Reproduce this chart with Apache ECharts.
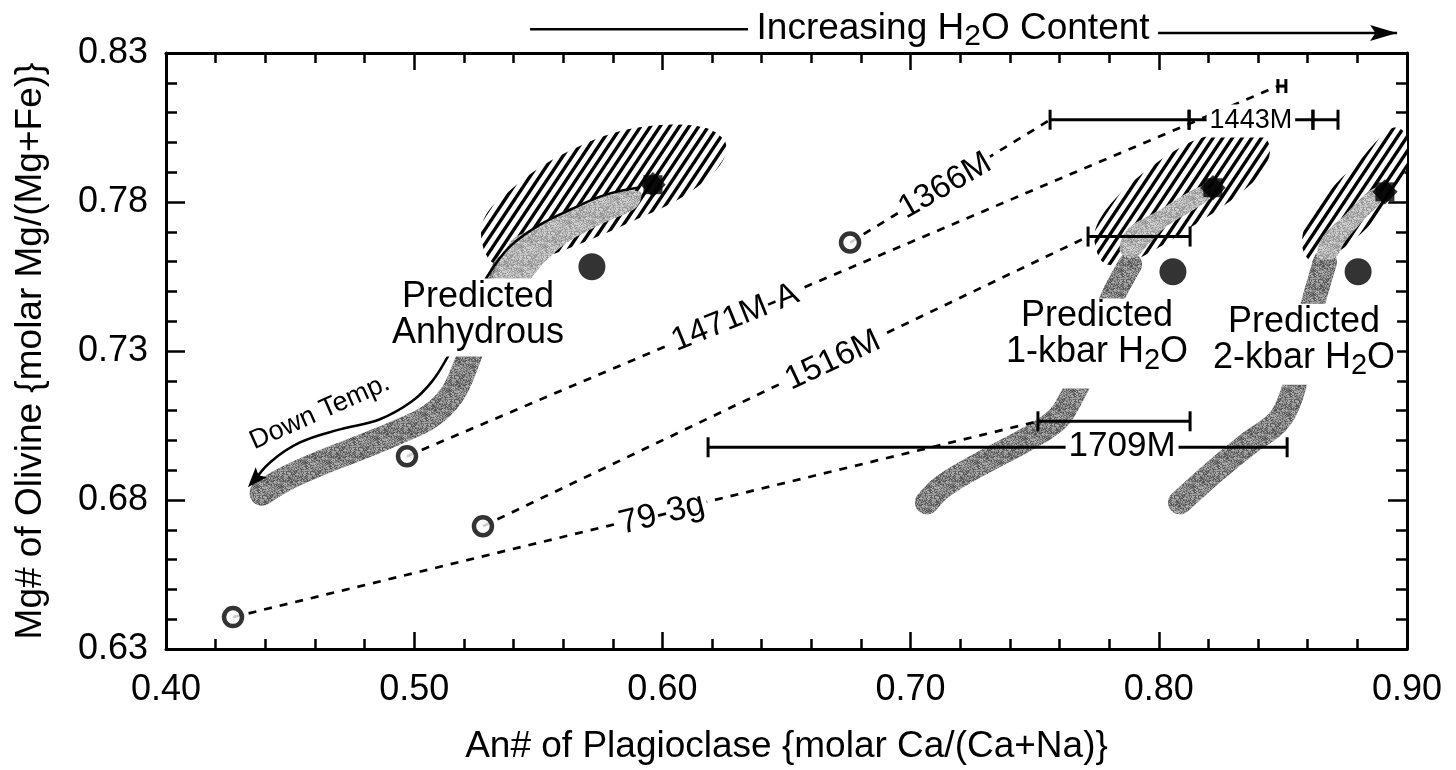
<!DOCTYPE html>
<html>
<head>
<meta charset="utf-8">
<script src="https://cdn.jsdelivr.net/npm/echarts@6.0.0/dist/echarts.min.js"></script>
<style>
html,body{margin:0;padding:0;background:#fff;}
#chart{width:1456px;height:770px;}
</style>
</head>
<body>
<div id="chart"></div>
<script>
// ================= data =================
const xTicks = [0.40, 0.50, 0.60, 0.70, 0.80, 0.90];
const yTicks = [0.63, 0.68, 0.73, 0.78, 0.83];
const xTitle = 'An# of Plagioclase {molar Ca/(Ca+Na)}';
const yTitle = 'Mg# of Olivine {molar Mg/(Mg+Fe)}';

// open circles (sample starting points)
const openCircles = [[0.4270,0.6407],[0.4971,0.6947],[0.5277,0.6712],[0.6756,0.7664]];
// filled circles and filled stars
const filledCircles = [[0.5716,0.7583],[0.8057,0.7566],[0.8803,0.7566]];
const stars = [[0.5962,0.7858],[0.8218,0.7848],[0.8911,0.7834]];

// dotted sample trend lines
const line79_3g  = [[0.4270,0.6407],[0.7513,0.7064]];
const line1516M  = [[0.5277,0.6712],[0.7715,0.7684]];
const line1471MA = [[0.4971,0.6947],[0.8480,0.8189]];
const line1366M  = [[0.6756,0.7664],[0.7562,0.8076]];

// horizontal ranges [xFrom, xTo, y]
const errorBars = [
  [0.7562,0.8122,0.8076],[0.8122,0.8621,0.8076],[0.8621,0.8722,0.8076],
  [0.7715,0.8126,0.7684],
  [0.7513,0.8126,0.7064],
  [0.6184,0.8517,0.6977]
];
const smallBars = [[0.8480,0.8512,0.8189]];

// sample labels
const sampleNames = ['79-3g','1516M','1471M-A','1366M','1443M','1709M'];
const samplePos = [[0.5998,0.6752],[0.6687,0.7268],[0.6293,0.7412],[0.7139,0.7854],[0.8371,0.8072],[0.7852,0.6980]];

// predicted fields: hatched outlines
const anhEllipse = [[0.5269,0.7700],[0.5297,0.7767],[0.5366,0.7824],[0.5479,0.7901],[0.5616,0.7968],[0.5817,0.8035],[0.6019,0.8059],[0.6172,0.8049],[0.6248,0.8009],[0.6256,0.7965],[0.6224,0.7915],[0.6152,0.7858],[0.6039,0.7797],[0.5910,0.7747],[0.5769,0.7694],[0.5608,0.7640],[0.5467,0.7600],[0.5366,0.7580],[0.5297,0.7613]];
const kbar1Ellipse = [[0.7743,0.7657],[0.7751,0.7724],[0.7832,0.7818],[0.7965,0.7915],[0.8106,0.7992],[0.8206,0.8022],[0.8347,0.8029],[0.8428,0.8015],[0.8448,0.7968],[0.8416,0.7901],[0.8335,0.7834],[0.8239,0.7774],[0.8126,0.7714],[0.8005,0.7650],[0.7884,0.7600],[0.7783,0.7593]];
const kbar2Ellipse = [[0.8577,0.7657],[0.8609,0.7757],[0.8710,0.7858],[0.8811,0.7942],[0.8883,0.8009],[0.8944,0.8049],[0.8992,0.8032],[0.9004,0.7975],[0.8992,0.7901],[0.8919,0.7791],[0.8819,0.7697],[0.8710,0.7627],[0.8617,0.7600]];

// lighter parts of the paths inside the fields
const anhBand = [[0.5317,0.7523],[0.5386,0.7664],[0.5467,0.7707],[0.5616,0.7774],[0.5801,0.7831],[0.5910,0.7834],[0.5910,0.7801],[0.5882,0.7774],[0.5749,0.7724],[0.5616,0.7664],[0.5527,0.7600],[0.5438,0.7523]];
const kbar1Band = [[0.7844,0.7633],[0.7872,0.7707],[0.8005,0.7774],[0.8138,0.7841],[0.8194,0.7854],[0.8214,0.7821],[0.8166,0.7787],[0.8025,0.7714],[0.7957,0.7657],[0.7904,0.7613]];
const kbar2Band = [[0.8641,0.7613],[0.8658,0.7680],[0.8750,0.7757],[0.8843,0.7834],[0.8883,0.7848],[0.8899,0.7808],[0.8819,0.7734],[0.8750,0.7667],[0.8710,0.7613]];

// predicted cooling paths (grey ribbons)
const anhRibbon = [[0.4387,0.6823],[0.4479,0.6870],[0.4592,0.6913],[0.4794,0.6980],[0.4931,0.7027],[0.5064,0.7081],[0.5152,0.7154],[0.5209,0.7255],[0.5257,0.7372],[0.5313,0.7489],[0.5366,0.7580]];
const kbar1Ribbon = [[0.7066,0.6792],[0.7131,0.6846],[0.7292,0.6926],[0.7469,0.7004],[0.7590,0.7071],[0.7650,0.7148],[0.7703,0.7238],[0.7755,0.7355],[0.7815,0.7483],[0.7884,0.7590]];
const kbar2Ribbon = [[0.8085,0.6792],[0.8134,0.6829],[0.8234,0.6903],[0.8367,0.6993],[0.8476,0.7060],[0.8529,0.7138],[0.8561,0.7238],[0.8593,0.7372],[0.8629,0.7483],[0.8670,0.7600]];

// "Down Temp." arrow
const downTempPath = [[0.5902,0.7848],[0.5769,0.7824],[0.5628,0.7774],[0.5507,0.7724],[0.5394,0.7657],[0.5326,0.7590],[0.5265,0.7506],[0.5193,0.7372],[0.5136,0.7282],[0.5072,0.7198],[0.4991,0.7131],[0.4862,0.7071],[0.4701,0.7037],[0.4540,0.6993],[0.4419,0.6926],[0.4346,0.6853]];
const downTempHead = [0.4387,0.6896,0.4330,0.6843];
const downTempLabelPos = [[0.4620,0.7095]];

// "Increasing H2O Content" arrow above the plot
const h2oArrowLeft = [[0.5467,0.8380],[0.6345,0.8380]];
const h2oArrowRight = [[0.7997,0.8367],[0.8960,0.8367]];
const h2oHead = [0.8900,0.8367,0.8960,0.8367];
const h2oLabelPos = [[0.7171,0.8380]];

// field labels
const fieldNames = ['Predicted\nAnhydrous','Predicted\n1-kbar H{s|2}O','Predicted\n2-kbar H{s|2}O'];
const fieldPos = [[0.5257,0.7412],[0.7751,0.7325],[0.8585,0.7323]];

// ================= rendering =================
const FONT = '"Liberation Sans", Arial, Helvetica, sans-serif';
const step = a => +(a[1] - a[0]).toFixed(4);

function makeHatch() {
  const p = 29, c = document.createElement('canvas');
  c.width = p; c.height = p;
  const g = c.getContext('2d');
  g.fillStyle = '#fff'; g.fillRect(0, 0, p, p);
  g.strokeStyle = '#000'; g.lineWidth = 3.4;
  for (let k = -3; k <= 8; k++) {
    const cc = k * p;
    g.beginPath();
    g.moveTo(-p, (cc + 3 * p) / 2);
    g.lineTo(2 * p, (cc - 6 * p) / 2);
    g.stroke();
  }
  return c;
}
// stippled grey texture (deterministic hash dither, purely decorative)
function makeStipple(base, amp) {
  const n = 24, c = document.createElement('canvas');
  c.width = n; c.height = n;
  const g = c.getContext('2d');
  for (let i = 0; i < n; i++) for (let j = 0; j < n; j++) {
    let h = (i * 374761393 + j * 668265263) >>> 0;
    h = ((h ^ (h >>> 13)) * 1274126177) >>> 0;
    const t = ((h >>> 8) % 1000) / 1000 - 0.5;
    const v = Math.max(0, Math.min(255, Math.round(base + amp * t)));
    g.fillStyle = 'rgb(' + v + ',' + v + ',' + v + ')';
    g.fillRect(i, j, 1, 1);
  }
  return { image: c, repeat: 'repeat' };
}
const hatch = makeHatch();
const darkGrey = makeStipple(130, 110);
const lightGrey = makeStipple(178, 80);

function xAxisCfg(pos, show) {
  return {
    type: 'value', position: pos, min: xTicks[0], max: xTicks[xTicks.length - 1], interval: step(xTicks),
    axisLine: { show: true, onZero: false, lineStyle: { color: '#000', width: 3 } },
    axisTick: { show: true, inside: true, length: 17, lineStyle: { color: '#000', width: 2.5 } },
    minorTick: { show: true, splitNumber: 5, length: 10, lineStyle: { color: '#000', width: 2.5 } },
    splitLine: { show: false }, minorSplitLine: { show: false },
    axisLabel: { show: show, fontSize: 36, color: '#000', fontFamily: FONT, margin: 23, formatter: v => v.toFixed(2) },
    name: show ? xTitle : '', nameLocation: 'middle', nameGap: 79,
    nameTextStyle: { fontSize: 37, color: '#000', fontFamily: FONT }
  };
}
function yAxisCfg(pos, show) {
  return {
    type: 'value', position: pos, min: yTicks[0], max: yTicks[yTicks.length - 1], interval: step(yTicks),
    axisLine: { show: true, onZero: false, lineStyle: { color: '#000', width: 3 } },
    axisTick: { show: true, inside: true, length: 19, lineStyle: { color: '#000', width: 2.5 } },
    minorTick: { show: true, splitNumber: 5, length: 11, lineStyle: { color: '#000', width: 2.5 } },
    splitLine: { show: false }, minorSplitLine: { show: false },
    axisLabel: { show: show, fontSize: 36, color: '#000', fontFamily: FONT, margin: 18, formatter: v => v.toFixed(2) },
    name: show ? yTitle : '', nameLocation: 'middle', nameGap: 117,
    nameTextStyle: { fontSize: 37, color: '#000', fontFamily: FONT }
  };
}

function dashed(data) {
  return { type: 'line', data: data, symbol: 'none', silent: true, z: 5,
    lineStyle: { color: '#000', width: 2.7, type: [8, 8] } };
}
function ribbon(data, color, width) {
  return { type: 'line', data: data, symbol: 'none', smooth: 0.4, silent: true, z: 3,
    lineStyle: { color: color, width: width, cap: 'round', join: 'round' } };
}
function polySeries(polys, fill, z) {
  return { type: 'custom', coordinateSystem: 'cartesian2d', silent: true, clip: true, z: z,
    data: polys.map((f, i) => [f[0][0], f[0][1], i]), encode: { x: 0, y: 1 },
    renderItem: (params, api) => {
      const f = polys[api.value(2)];
      return { type: 'polygon', shape: { points: f.map(p => api.coord(p)), smooth: 0.35 },
        style: { fill: fill, stroke: null } };
    } };
}
function textSeries(points, names, opt) {
  return {
    type: 'scatter', silent: true, clip: false, z: opt.z || 20,
    symbol: 'circle', symbolSize: 1, itemStyle: { color: 'transparent', opacity: 1 },
    data: points.map((p, i) => {
      const lab = {};
      if (opt.rotate) lab.rotate = opt.rotate[i];
      if (opt.sizes) lab.fontSize = opt.sizes[i];
      if (opt.pads) lab.padding = opt.pads[i];
      return { value: p, name: names[i], label: lab };
    }),
    label: {
      show: true, position: 'inside', formatter: p => p.name, color: '#000', opacity: 1,
      textBorderWidth: 0, textBorderColor: 'transparent', fontFamily: FONT,
      fontSize: opt.size, lineHeight: opt.lineHeight || opt.size,
      backgroundColor: opt.bg || 'transparent', padding: opt.padding || 0,
      rich: { s: { fontSize: opt.sub || 28, lineHeight: 20, padding: [16, 0, 0, 0], fontFamily: FONT, color: '#000', opacity: 1, textBorderWidth: 0 } }
    },
    emphasis: { disabled: true }
  };
}
const headStyle = [[20, 7.5], [27, 8]];
const heads = [downTempHead, h2oHead];

const option = {
  animation: false,
  textStyle: { fontFamily: FONT, color: '#000' },
  grid: { left: 166, right: 49, top: 53, bottom: 120, containLabel: false },
  xAxis: [xAxisCfg('bottom', true), xAxisCfg('top', false)],
  yAxis: [yAxisCfg('left', true), yAxisCfg('right', false)],
  series: [
    // hatched predicted fields
    polySeries([anhEllipse, kbar1Ellipse, kbar2Ellipse], { image: hatch, repeat: 'repeat' }, 2),
    // grey cooling paths
    ribbon(anhRibbon, darkGrey, 25),
    ribbon(kbar1Ribbon, darkGrey, 24),
    ribbon(kbar2Ribbon, darkGrey, 24),
    polySeries([anhBand, kbar1Band, kbar2Band], lightGrey, 4),
    // Down Temp arrow
    { type: 'line', data: downTempPath, symbol: 'none', smooth: 0.4, silent: true, z: 6,
      lineStyle: { color: '#000', width: 2.5 } },
    // Increasing H2O arrow lines
    { type: 'line', data: h2oArrowLeft, symbol: 'none', silent: true, clip: false, z: 6, lineStyle: { color: '#000', width: 2.5 } },
    { type: 'line', data: h2oArrowRight, symbol: 'none', silent: true, clip: false, z: 6, lineStyle: { color: '#000', width: 2.5 } },
    // arrow heads
    { type: 'custom', coordinateSystem: 'cartesian2d', silent: true, clip: false, z: 6,
      data: heads.map((h, i) => [h[0], h[1], h[2], h[3], i]), encode: { x: [0, 2], y: [1, 3] },
      renderItem: (params, api) => {
        const i = api.value(4);
        const a = api.coord([api.value(0), api.value(1)]), b = api.coord([api.value(2), api.value(3)]);
        let dx = b[0] - a[0], dy = b[1] - a[1]; const d = Math.hypot(dx, dy); dx /= d; dy /= d;
        const L = headStyle[i][0], W = headStyle[i][1];
        const bx = b[0] - L * dx, by = b[1] - L * dy;
        return { type: 'polygon', shape: { points: [b, [bx - W * dy, by + W * dx], [b[0] - 0.8 * L * dx, b[1] - 0.8 * L * dy], [bx + W * dy, by - W * dx]] },
          style: { fill: '#000' } };
      } },
    // dotted sample lines
    dashed(line79_3g), dashed(line1516M), dashed(line1471MA), dashed(line1366M),
    // error bars
    { type: 'custom', coordinateSystem: 'cartesian2d', silent: true, z: 7,
      data: errorBars.map(e => [e[0], e[1], e[2], 10]).concat(smallBars.map(e => [e[0], e[1], e[2], 7])),
      encode: { x: [0, 1], y: 2 },
      renderItem: (params, api) => {
        const a = api.coord([api.value(0), api.value(2)]), b = api.coord([api.value(1), api.value(2)]);
        const h = api.value(3), st = { stroke: '#000', lineWidth: 3 };
        return { type: 'group', children: [
          { type: 'line', shape: { x1: a[0], y1: a[1], x2: b[0], y2: b[1] }, style: st },
          { type: 'line', shape: { x1: a[0], y1: a[1] - h, x2: a[0], y2: a[1] + h }, style: st },
          { type: 'line', shape: { x1: b[0], y1: b[1] - h, x2: b[0], y2: b[1] + h }, style: st }
        ] };
      } },
    // symbols
    { type: 'scatter', data: openCircles, symbol: 'circle', symbolSize: 18, silent: true, z: 9,
      itemStyle: { color: '#fff', borderColor: '#000', borderWidth: 4.5 } },
    { type: 'scatter', data: filledCircles, symbol: 'circle', symbolSize: 27, silent: true, z: 9, itemStyle: { color: '#000' } },
    { type: 'scatter', data: stars, symbol: 'rect', symbolSize: 19, silent: true, z: 9, itemStyle: { color: '#000' } },
    { type: 'scatter', data: stars, symbol: 'rect', symbolSize: 18, symbolRotate: 45, silent: true, z: 9, itemStyle: { color: '#000' } },
    // texts
    textSeries(samplePos, sampleNames, { size: 33, bg: '#fff', padding: [0, 3],
      rotate: [14, 25, 22, 30, 0, 0], sizes: [34, 33, 33, 33, 27, 35] }),
    textSeries(fieldPos, fieldNames, { size: 36, lineHeight: 36, bg: '#fff', sub: 29,
      pads: [[0, 2, 6, 2], [0, 2, 18, 2], [0, 2, 9, 2]] }),
    textSeries(downTempLabelPos, ['Down Temp.'], { size: 27, rotate: [24] }),
    textSeries(h2oLabelPos, ['Increasing H{s|2}O Content'], { size: 37, lineHeight: 36, sub: 30 })
  ]
};

const chart = echarts.init(document.getElementById('chart'), null, { renderer: 'canvas' });
chart.setOption(option);
</script>
</body>
</html>
